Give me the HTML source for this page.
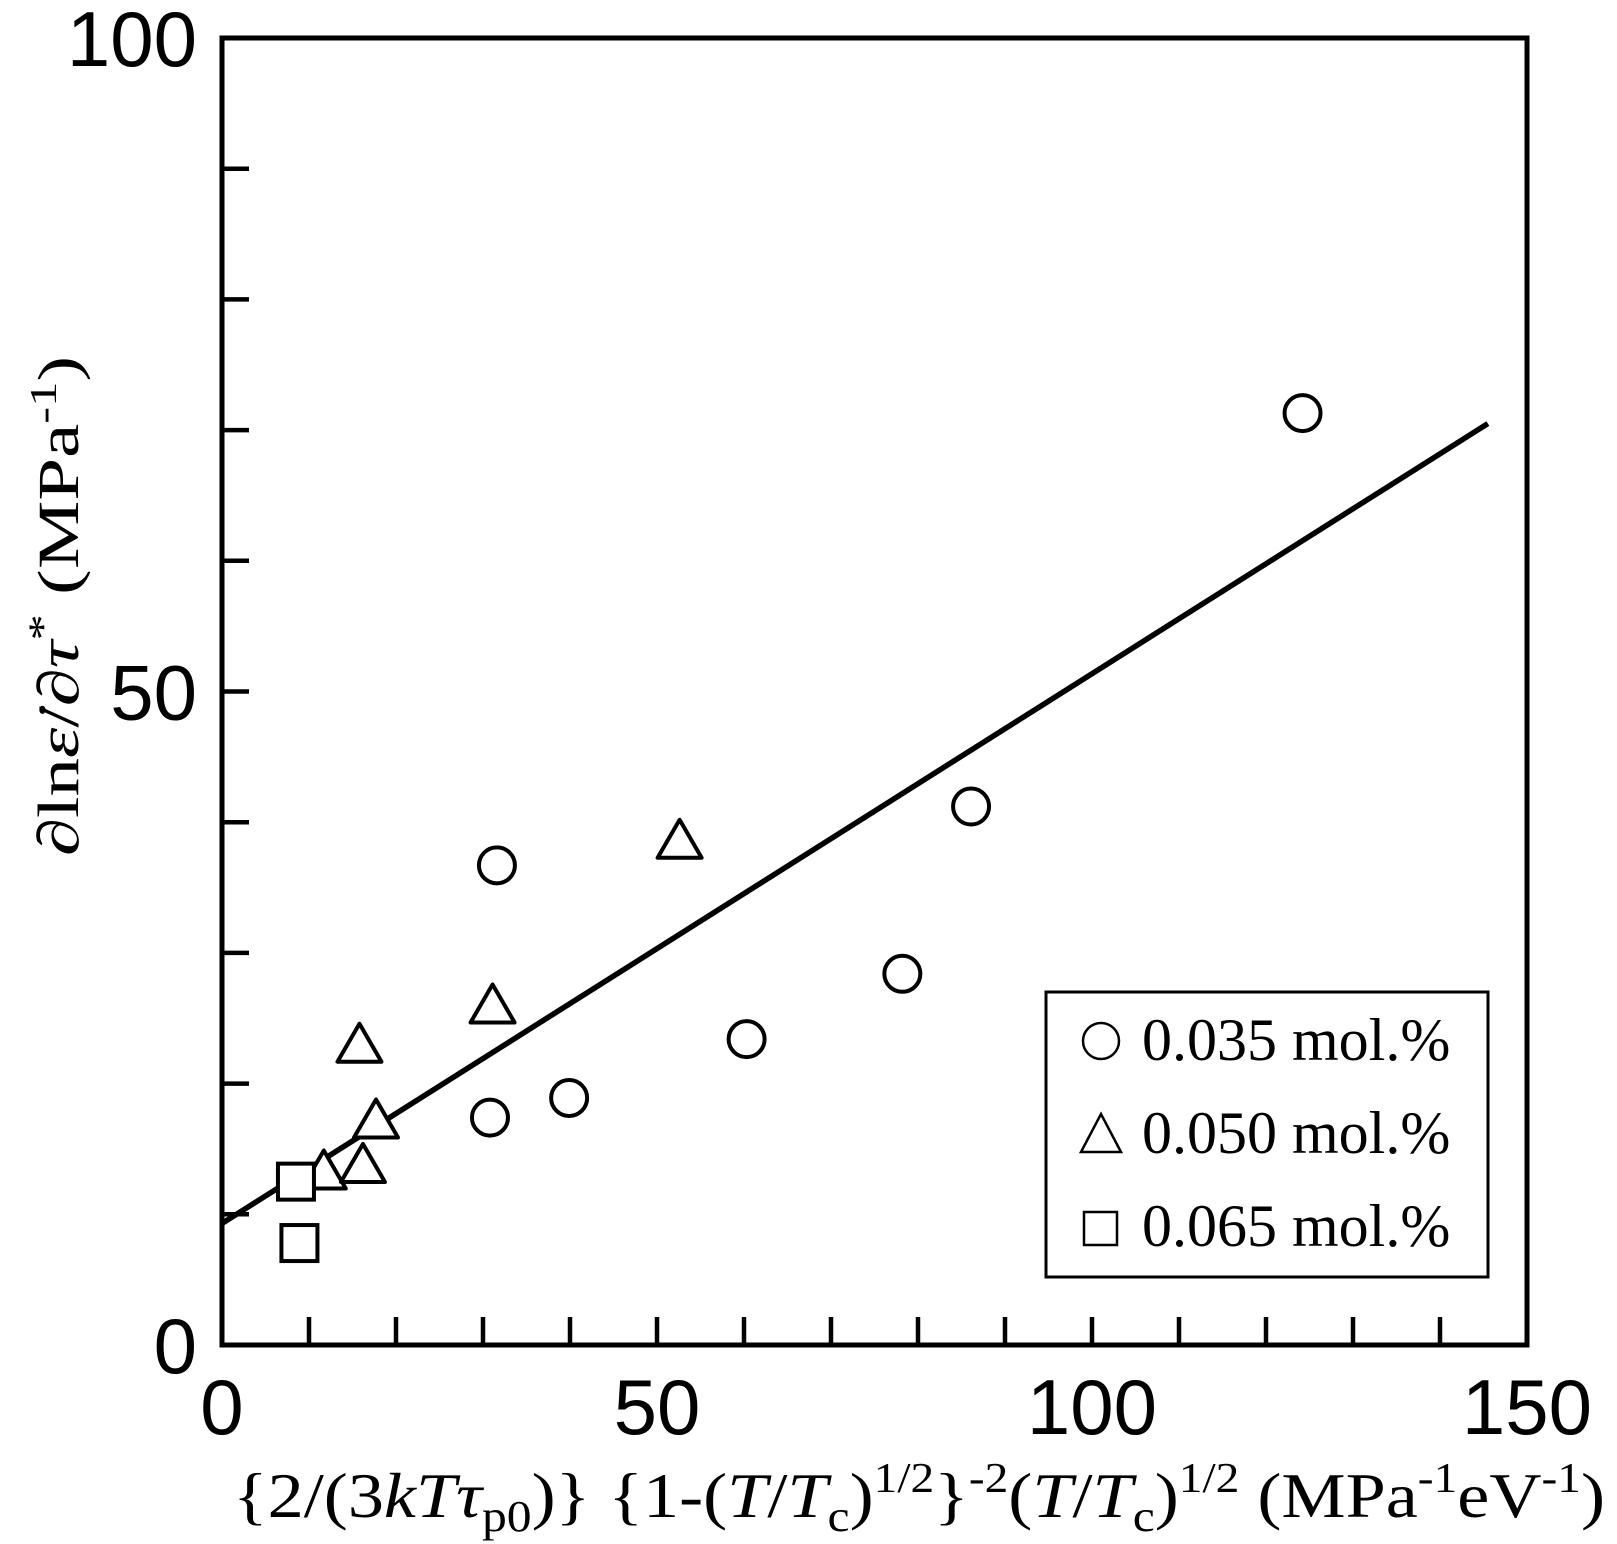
<!DOCTYPE html>
<html><head><meta charset="utf-8"><style>
html,body{margin:0;padding:0;background:#fff;}
svg{display:block;}
</style></head><body>
<svg id="chart" width="1617" height="1544" viewBox="0 0 1617 1544" xmlns="http://www.w3.org/2000/svg">
<g id="axes"></g>
<g id="marks"></g>
<text transform="translate(78,606) rotate(-90)" text-anchor="middle" font-family="Liberation Serif, serif" font-size="58" textLength="500" lengthAdjust="spacingAndGlyphs">∂ln<tspan font-style="italic">ε̇</tspan>/∂<tspan font-style="italic">τ</tspan><tspan dy="-22" font-size="40">*</tspan><tspan dy="22"> (MPa</tspan><tspan dy="-22" font-size="38">-1</tspan><tspan dy="22">)</tspan></text>
<text x="233" y="1517" font-family="Liberation Serif, serif" font-size="64" textLength="1372" lengthAdjust="spacingAndGlyphs">{2/(3<tspan font-style="italic">kTτ</tspan><tspan dy="14" font-size="44">p0</tspan><tspan dy="-14">)} {1-(</tspan><tspan font-style="italic">T</tspan>/<tspan font-style="italic">T</tspan><tspan dy="14" font-size="44">c</tspan><tspan dy="-14">)</tspan><tspan dy="-25" font-size="42">1/2</tspan><tspan dy="25">}</tspan><tspan dy="-25" font-size="42">-2</tspan><tspan dy="25">(</tspan><tspan font-style="italic">T</tspan>/<tspan font-style="italic">T</tspan><tspan dy="14" font-size="44">c</tspan><tspan dy="-14">)</tspan><tspan dy="-25" font-size="42">1/2</tspan><tspan dy="25">  (MPa</tspan><tspan dy="-25" font-size="42">-1</tspan><tspan dy="25">eV</tspan><tspan dy="-25" font-size="42">-1</tspan><tspan dy="25">)</tspan></text>
<g>
<rect x="1046" y="992" width="442" height="285" fill="#fff" stroke="#000" stroke-width="3"/>
<circle cx="1101" cy="1041" r="18" fill="none" stroke="#000" stroke-width="2.5"/>
<text x="1142" y="1060" font-family="Liberation Serif, serif" font-size="60">0.035 mol.%</text>
<polygon points="1101,1114 1081,1152 1121,1152" fill="none" stroke="#000" stroke-width="2.5"/>
<text x="1142" y="1153" font-family="Liberation Serif, serif" font-size="60">0.050 mol.%</text>
<rect x="1084" y="1212" width="33" height="33" fill="none" stroke="#000" stroke-width="2.5"/>
<text x="1142" y="1246" font-family="Liberation Serif, serif" font-size="60">0.065 mol.%</text>
</g>
</svg>
<script>
const xTicks = [0,10,20,30,40,50,60,70,80,90,100,110,120,130,140,150];
const xTickLabels = ["0","50","100","150"];
const yTicks = [0,10,20,30,40,50,60,70,80,90,100];
const yTickLabels = ["0","50","100"];
const circleX = [124.2, 86.1, 31.6, 78.2, 60.3, 39.9, 30.8];
const circleY = [71.3, 41.2, 36.7, 28.4, 23.4, 18.9, 17.4];
const triX = [52.6, 31.1, 15.8, 17.7, 11.7, 16.2];
const triY = [38.5, 25.9, 22.9, 17.1, 13.2, 13.7];
const sqX = [8.5, 8.9];
const sqY = [12.5, 7.8];
const fitX = [0, 145.5];
const fitY = [9.3, 70.5];

const X0=222, X1=1527, Y0=1345, Y1=38;
function sx(v){return X0+(v-0)/150*(X1-X0);}
function sy(v){return Y0-(v-0)/100*(Y0-Y1);}
const NS="http://www.w3.org/2000/svg";
function mk(tag, attrs, parent){const e=document.createElementNS(NS,tag);for(const k in attrs)e.setAttribute(k,attrs[k]);parent.appendChild(e);return e;}
const axes=document.getElementById('axes');
const marks=document.getElementById('marks');

let frame=mk('path',{d:`M${X0},${Y1} H${X1} V${Y0} H${X0} Z`,fill:'none',stroke:'#000','stroke-width':5},axes);



xTicks.forEach(v=>{
  if(v===0||v===150) return;
  const t=mk('line',{x1:sx(v),x2:sx(v),y1:Y0,y2:Y0-28,stroke:'#000','stroke-width':4.5},axes);
  
  
});
xTickLabels.forEach(s=>{
  const v=parseFloat(s);
  const t=mk('text',{x:sx(v),y:1434,'text-anchor':'middle','font-family':'Liberation Sans, sans-serif','font-size':78},axes);
  t.textContent=s;
  
  
});
yTicks.forEach(v=>{
  if(v===0||v===100) return;
  const t=mk('line',{x1:X0,x2:X0+27,y1:sy(v),y2:sy(v),stroke:'#000','stroke-width':4.5},axes);
  
  
});
yTickLabels.forEach(s=>{
  const v=parseFloat(s);
  const t=mk('text',{x:197,y:sy(v)+28,'text-anchor':'end','font-family':'Liberation Sans, sans-serif','font-size':78},axes);
  t.textContent=s;
  
  
});

const fit=mk('line',{x1:sx(fitX[0]),y1:sy(fitY[0]),x2:sx(fitX[1]),y2:sy(fitY[1]),stroke:'#000','stroke-width':5.5},marks);



circleX.forEach((x,i)=>{
  const c=mk('circle',{cx:sx(x),cy:sy(circleY[i]),r:18,fill:'#fff',stroke:'#000','stroke-width':4},marks);
  
  
});
triX.forEach((x,i)=>{
  const cx=sx(x), cy=sy(triY[i]);
  const p=mk('polygon',{points:`${cx},${cy-22} ${cx-22},${cy+16} ${cx+22},${cy+16}`,fill:'#fff',stroke:'#000','stroke-width':4,'stroke-linejoin':'round'},marks);
  
  
});
sqX.forEach((x,i)=>{
  const cx=sx(x), cy=sy(sqY[i]);
  const r=mk('rect',{x:cx-18,y:cy-18,width:36,height:36,fill:'#fff',stroke:'#000','stroke-width':4},marks);
  
  
});
</script>
</body></html>
